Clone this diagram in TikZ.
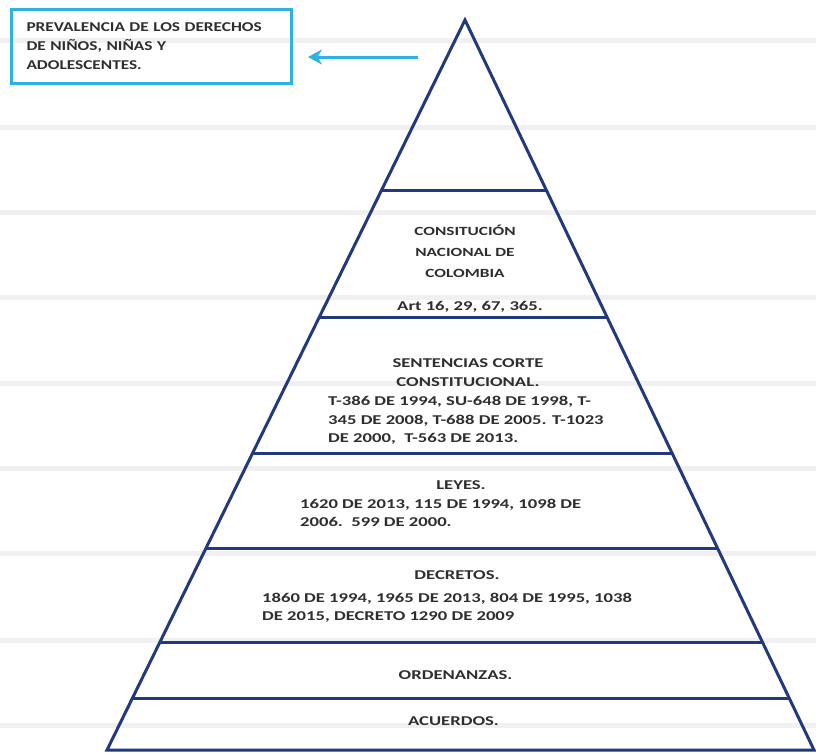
\documentclass[tikz,border=0pt]{standalone}
\usepackage{fontspec}
\setmainfont{Carlito}
\newfontfamily\tierfont[FakeStretch=1.38]{Carlito}
\newfontfamily\notefont[FakeStretch=1.28]{Carlito}
\usetikzlibrary{arrows.meta, positioning, calc}
\definecolor{navy}{HTML}{22397A}
\definecolor{skyline}{HTML}{2FB2E2}
\definecolor{inkgray}{HTML}{2E2E2E}
\definecolor{stripe}{HTML}{F0F0F0}

\begin{document}
\begin{tikzpicture}[
			x=1pt, y=-1pt,
			every node/.style={font=\tierfont\bfseries\fontsize{13.5}{18.5}\selectfont, text=inkgray, inner sep=0pt},
			level/.style={draw=navy, line width=3pt},
			title/.style={align=center},
			body/.style={align=left, anchor=west},
			note/.style={draw=skyline, line width=3pt, align=left, text width=250pt, inner xsep=15pt, minimum height=74pt, font=\notefont\bfseries\fontsize{13.5}{19}\selectfont},
			arrow/.style={-{Stealth[length=14pt,width=15pt]}, draw=skyline, line width=3pt, shorten >=15pt}
			]
			
			% Background
			\fill[white] (0,0) rectangle (816,753);
			\useasboundingbox (0,0) rectangle (816,753);
			\foreach \y in {40,127,212,297,383,468,553,640,725}
				\fill[stripe] (0,\y-2.5) rectangle (816,\y+2.5);
			
			% Pyramid
			\coordinate (apex) at (465,20);
			\coordinate (baseL) at (107,750);
			\coordinate (baseR) at (814,750);
			\draw[level] (baseL) -- (apex) -- (baseR) -- cycle;
			\foreach \t in {0.2329,0.4082,0.5932,0.7233,0.8534,0.9288}
				\draw[level] ($(apex)!\t!(baseL)$) -- ($(apex)!\t!(baseR)$);
			
			% Nodes
			\node (prevalencia) [note, anchor=north west] at (10,8) {PREVALENCIA DE LOS DERECHOS\\DE NIÑOS, NIÑAS Y\\ADOLESCENTES.};
			\node (constitucion) [title, font=\tierfont\bfseries\fontsize{12.5}{21}\selectfont] at (465,251) {CONSITUCIÓN\\NACIONAL DE\\COLOMBIA};
			\node (articulos) at (470,307) {Art 16, 29, 67, 365.};
			\node (sentencias) [title] at (468,372.5) {SENTENCIAS CORTE\\CONSTITUCIONAL.};
			\node (sentencias_list) [body] at (328,420.5) {T-386 DE 1994, SU-648 DE 1998, T-\\345 DE 2008, T-688 DE 2005. T-1023\\DE 2000,\ \ T-563 DE 2013.};
			\node (leyes) [title] at (461,485) {LEYES.};
			\node (leyes_list) [body] at (300,513) {1620 DE 2013, 115 DE 1994, 1098 DE\\2006.\ \ 599 DE 2000.};
			\node (decretos) [title] at (457,575) {DECRETOS.};
			\node (decretos_list) [body] at (262,607.5) {1860 DE 1994, 1965 DE 2013, 804 DE 1995, 1038\\DE 2015, DECRETO 1290 DE 2009};
			\node (ordenanzas) at (455.5,675) {ORDENANZAS.};
			\node (acuerdos) at (453.5,721) {ACUERDOS.};
			
			% Connections
			\coordinate (arrowtail) at (418,57);
			\draw [arrow] (arrowtail) -- (arrowtail -| prevalencia.east);
			
		\end{tikzpicture}
\end{document}
